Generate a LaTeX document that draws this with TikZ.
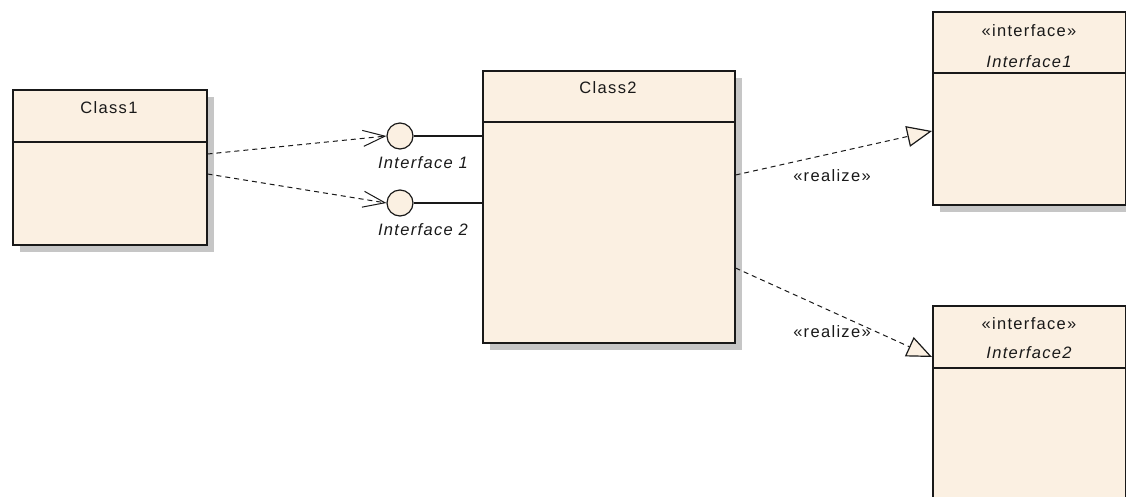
\documentclass[tikz,border=0pt]{standalone}
\usepackage{fontspec}
\setmainfont{Liberation Sans}[LetterSpace=8]
\usetikzlibrary{arrows.meta,calc,shadows}
\definecolor{cream}{RGB}{251,240,226}
\definecolor{shadowgrey}{RGB}{198,198,198}
\definecolor{ink}{RGB}{25,25,25}
\begin{document}
\begin{tikzpicture}[x=1pt,y=-1pt,
  box/.style={draw=ink, line width=1.5pt, fill=cream, rectangle, anchor=north west, inner sep=0pt,
    drop shadow={shadow xshift=7pt, shadow yshift=-7pt, fill=shadowgrey, opacity=1}},
  divline/.style={draw=ink, line width=1.2pt},
  txt/.style={font=\fontsize{16.5}{19}\selectfont, text=ink, inner sep=1pt},
  itxt/.style={font=\fontsize{16.5}{19}\selectfont\itshape, text=ink, inner sep=1pt},
  lolly/.style={circle, draw=ink, line width=1.2pt, fill=cream, minimum size=26pt, inner sep=0pt},
  solidline/.style={draw=ink, line width=1.2pt},
  dep/.style={draw=ink, line width=1pt, dash pattern=on 5pt off 4pt},
  barb/.style={-{Straight Barb[length=22pt,width=16pt,line width=1pt]}},
  realize/.style={-{Triangle[length=25pt,width=21pt,fill=cream,line width=1.2pt]}}
]
\useasboundingbox (0,0) rectangle (1126,496);

% Class1
\node[box, minimum width=194pt, minimum height=155pt] (c1) at (12,89) {};
\draw[divline] (c1.west |- 0,142) -- (c1.east |- 0,142);
\node[txt] (c1name) at (109,108) {Class1};

% Class2
\node[box, minimum width=252pt, minimum height=272pt] (c2) at (482,70) {};
\draw[divline] (c2.west |- 0,122) -- (c2.east |- 0,122);
\node[txt] (c2name) at (608,88) {Class2};

% Interface1
\node[box, minimum width=193pt, minimum height=193pt] (i1) at (932,11) {};
\draw[divline] (i1.west |- 0,73) -- (i1.east |- 0,73);
\node[txt] (i1st) at (1029,31) {«interface»};
\node[itxt] (i1name) at (1029,62) {Interface1};

% Interface2
\node[box, minimum width=193pt, minimum height=200pt] (i2) at (932,305) {};
\draw[divline] (i2.west |- 0,368) -- (i2.east |- 0,368);
\node[txt] (i2st) at (1029,324) {«interface»};
\node[itxt] (i2name) at (1029,353) {Interface2};

% Lollipops
\node[lolly] (l1) at (400,136) {};
\node[lolly] (l2) at (400,203) {};
\draw[solidline] (l1.east) -- (l1 -| c2.west);
\draw[solidline] (l2.east) -- (l2 -| c2.west);
\node[itxt] (l1lab) at (423,163) {Interface 1};
\node[itxt] (l2lab) at (423,230) {Interface 2};

% Dependencies
\draw[dep, barb] (c1.east |- 0,154) -- (l1.west);
\draw[dep, barb] (c1.east |- 0,174) -- (l2.west);

% Realizations
\draw[dep, realize] (c2.east |- 0,175) -- (i1.west |- 0,131);
\node[txt] (r1lab) at (832,176) {«realize»};
\draw[dep, realize] (c2.east |- 0,268) -- (i2.west |- 0,357);
\node[txt] (r2lab) at (832,332) {«realize»};
\end{tikzpicture}
\end{document}
